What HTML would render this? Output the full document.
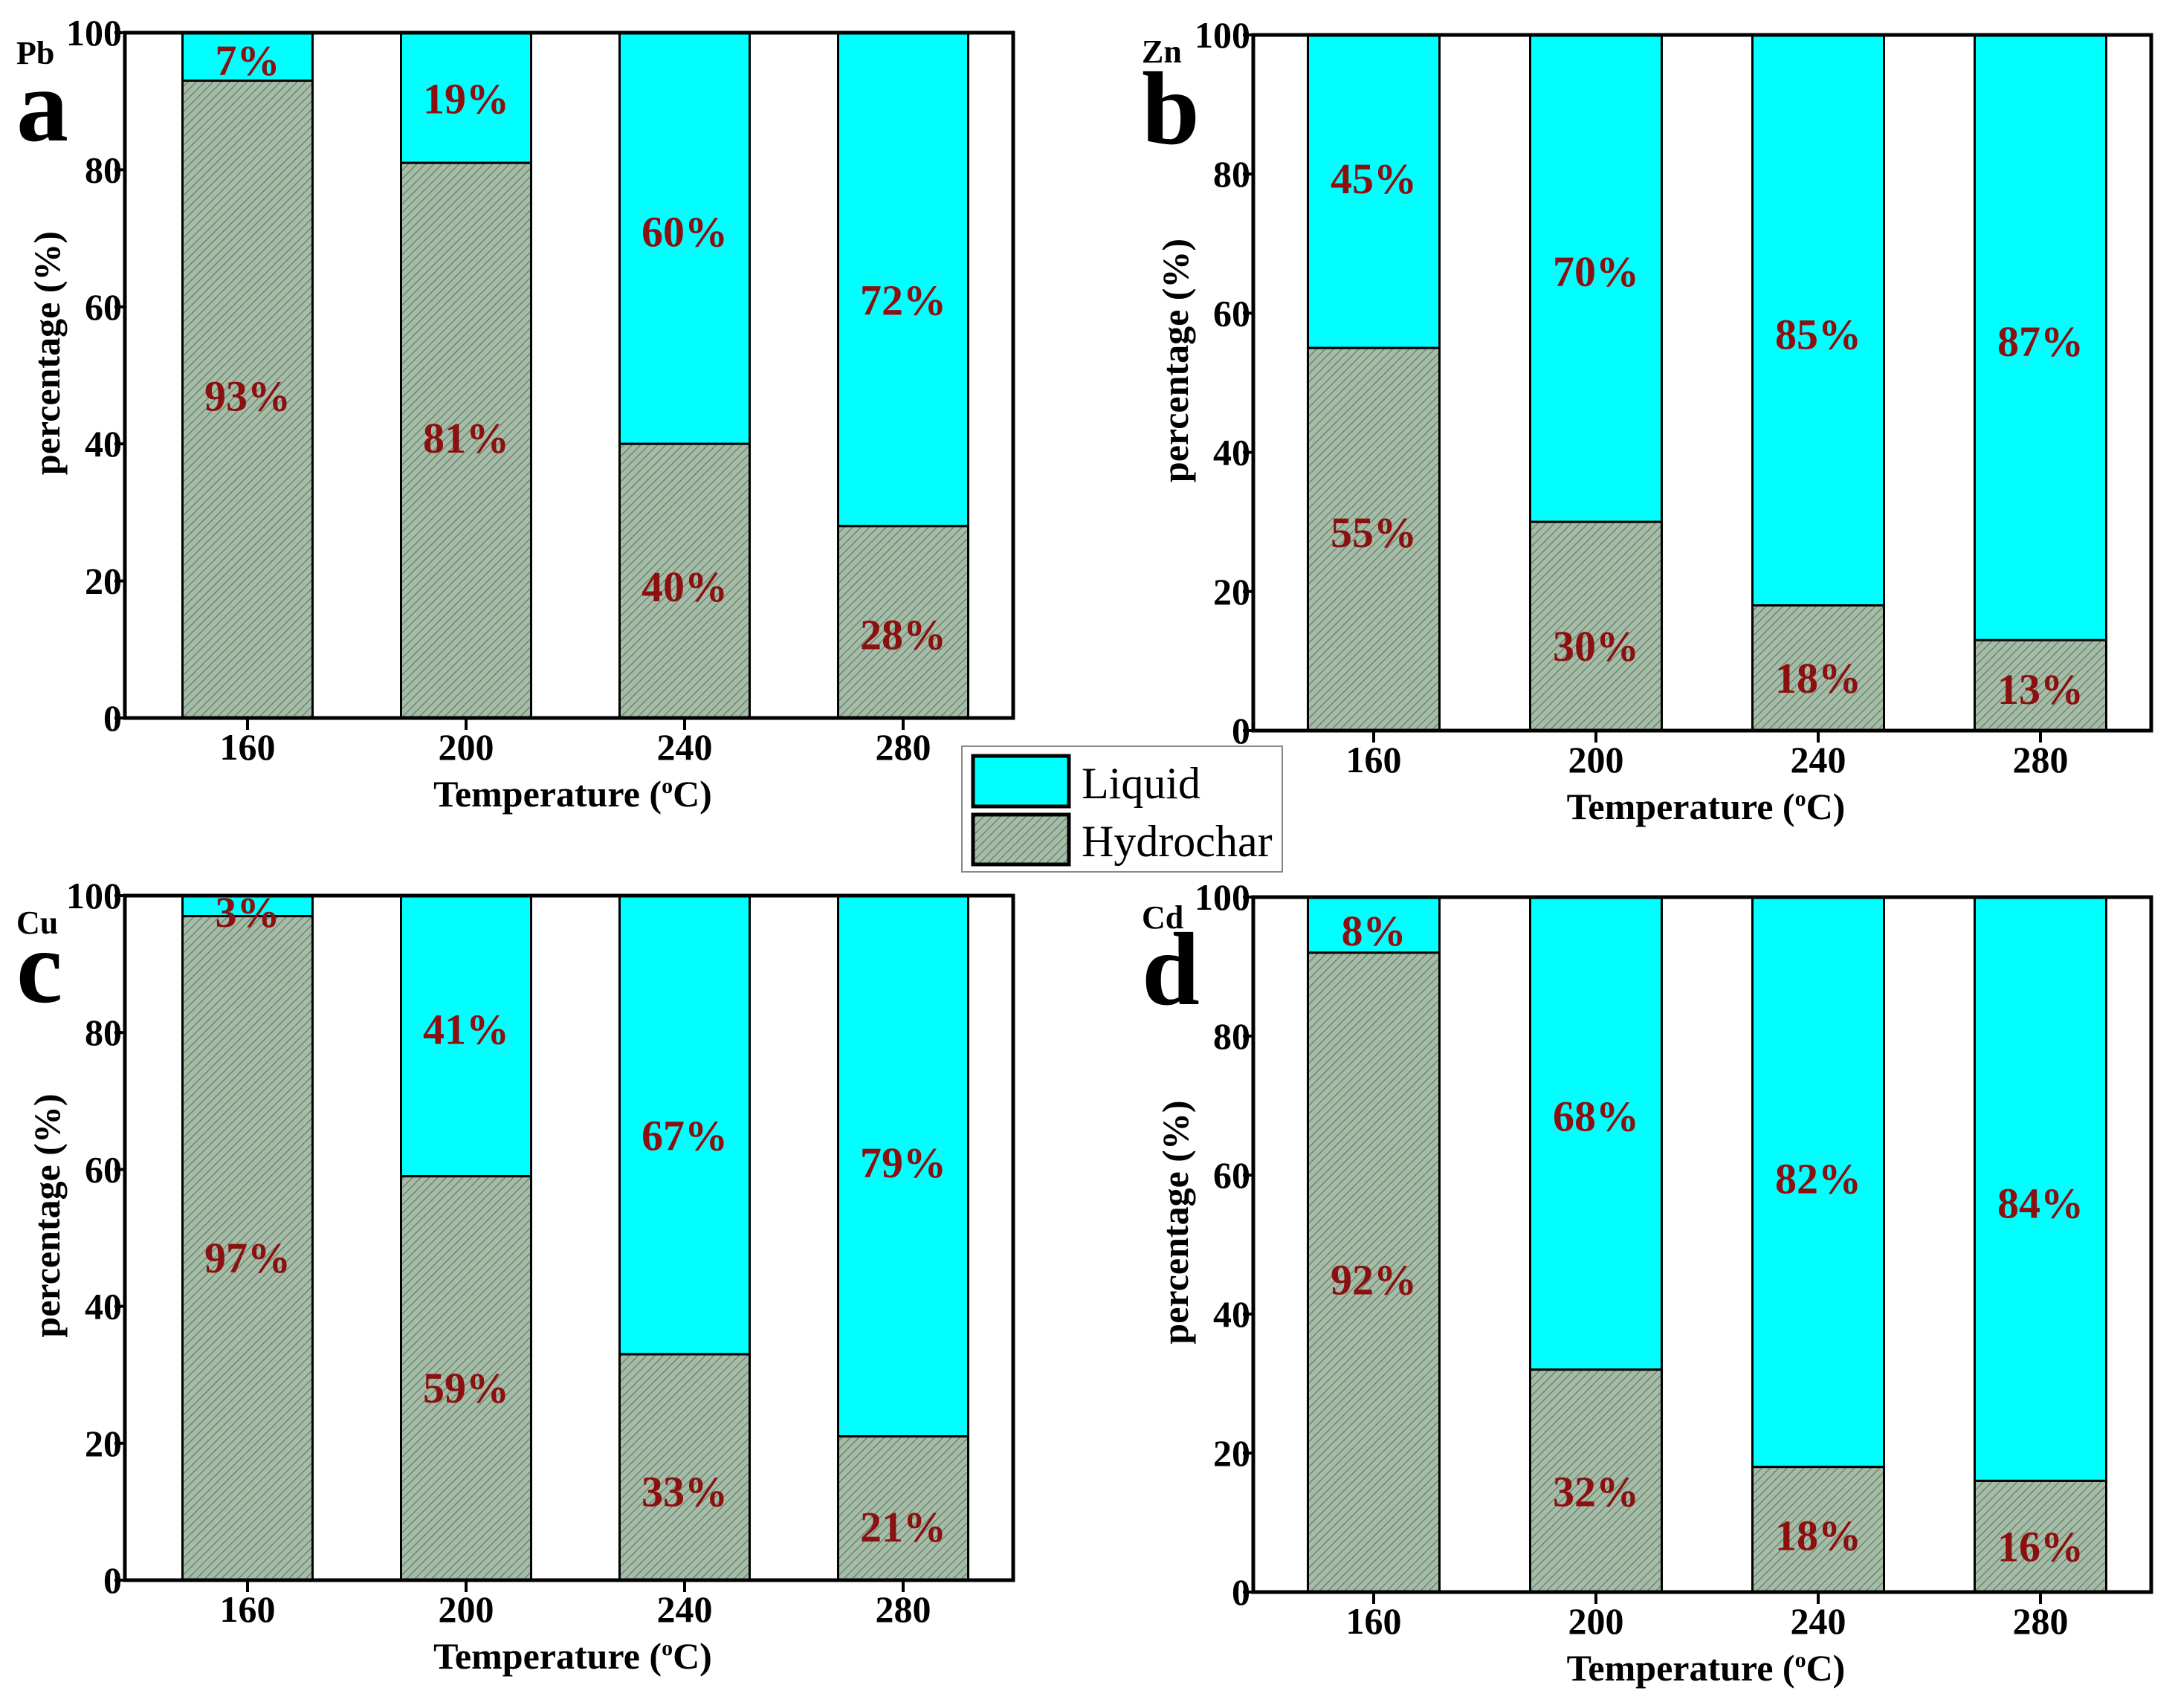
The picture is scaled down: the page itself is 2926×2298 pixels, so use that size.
<!DOCTYPE html>
<html><head><meta charset="utf-8">
<style>
html,body{margin:0;padding:0;background:#fff;}
svg{display:block;}
text{font-family:"Liberation Serif",serif;}
</style></head>
<body>
<svg id="chart" width="2926" height="2298" viewBox="0 0 2926 2298" xmlns="http://www.w3.org/2000/svg">
<defs>
<pattern id="hatch" patternUnits="userSpaceOnUse" width="8" height="8" patternTransform="rotate(45)">
<rect width="8" height="8" fill="#a6bca8"/>
<line x1="0" y1="0" x2="0" y2="8" stroke="#5f8064" stroke-width="2.5"/>
</pattern>
</defs>
<g id="legend">
<rect x="1294" y="1004" width="431" height="169" fill="#fff" stroke="#888" stroke-width="2"/>
<rect x="1309" y="1017" width="129" height="68" fill="#00ffff" stroke="#000" stroke-width="5"/>
<text x="1455" y="1074" font-size="60">Liquid</text>
<rect x="1309" y="1096" width="129" height="67" fill="url(#hatch)" stroke="#000" stroke-width="5"/>
<text x="1455" y="1152" font-size="60">Hydrochar</text>
</g>
</svg>
<script>
const categories = ["160","200","240","280"];
const yTicks = [0,20,40,60,80,100];
const metals = ["Pb","Zn","Cu","Cd"];
const letters = ["a","b","c","d"];
const hydrocharA = [93,81,40,28];
const hydrocharB = [55,30,18,13];
const hydrocharC = [97,59,33,21];
const hydrocharD = [92,32,18,16];
const liquidA = [7,19,60,72];
const liquidB = [45,70,85,87];
const liquidC = [3,41,67,79];
const liquidD = [8,68,82,84];
const liqLabelA = [96,90.4,71,61];
const liqLabelB = [79.4,66,57,56];
const liqLabelC = [97.6,80.5,65,61];
const liqLabelD = [95.2,68.5,59.5,56];
const hydLabelA = [47,40.9,19.2,12.2];
const hydLabelB = [28.5,12.2,7.6,6];
const hydLabelC = [47.1,28.1,13,7.8];
const hydLabelD = [45,14.5,8.2,6.6];

const hyd = [hydrocharA,hydrocharB,hydrocharC,hydrocharD];
const liq = [liquidA,liquidB,liquidC,liquidD];
const liqL = [liqLabelA,liqLabelB,liqLabelC,liqLabelD];
const hydL = [hydLabelA,hydLabelB,hydLabelC,hydLabelD];

const panels = [
 {l:168,r:1363,t:44,b:966,c0:333,step:294,bw:175,tx:22,mb:86,lb:189},
 {l:1686,r:2894,t:47,b:983,c0:1848,step:299,bw:177,tx:1536,mb:84,lb:193},
 {l:168,r:1363,t:1205,b:2126,c0:333,step:294,bw:175,tx:22,mb:1256,lb:1348},
 {l:1686,r:2894,t:1207,b:2142,c0:1848,step:299,bw:177,tx:1536,mb:1249,lb:1351}
];
const NS="http://www.w3.org/2000/svg";
const svg=document.getElementById('chart');
const legend=document.getElementById('legend');
function mk(tag,attrs,parent){const e=document.createElementNS(NS,tag);for(const k in attrs)e.setAttribute(k,attrs[k]);(parent||svg).appendChild(e);return e;}

panels.forEach((p,i)=>{
 const g=mk('g',{});
 
 
 svg.insertBefore(g,legend);
 const y=v=>p.b-(v/100)*(p.b-p.t);
 const x=k=>p.c0+k*p.step;
 categories.forEach((c,k)=>{
  const hv=hyd[i][k], lv=liq[i][k];
  const top=Math.min(100,hv+lv);
  const lr=mk('rect',{x:x(k)-p.bw/2,y:y(top),width:p.bw,height:y(hv)-y(top),fill:'#00ffff',stroke:'#000','stroke-width':3},g);
  
  
  const hr=mk('rect',{x:x(k)-p.bw/2,y:y(hv),width:p.bw,height:y(0)-y(hv),fill:'url(#hatch)',stroke:'#000','stroke-width':3},g);
  
  
  const t1=mk('text',{x:x(k),y:y(liqL[i][k])+20,'font-size':58,'font-weight':'bold','text-anchor':'middle',fill:'#8b1010'},g);
  t1.textContent=lv+'%';
  
  
  const t2=mk('text',{x:x(k),y:y(hydL[i][k])+20,'font-size':58,'font-weight':'bold','text-anchor':'middle',fill:'#8b1010'},g);
  t2.textContent=hv+'%';
  
  
  mk('line',{x1:x(k),x2:x(k),y1:p.b,y2:p.b+16,stroke:'#000','stroke-width':4},g);
  const xt=mk('text',{x:x(k),y:p.b+56,'font-size':50,'font-weight':'bold','text-anchor':'middle'},g);
  xt.textContent=c;
  
  
 });
 const frame=mk('rect',{x:p.l,y:p.t,width:p.r-p.l,height:p.b-p.t,fill:'none',stroke:'#000','stroke-width':5},g);
 
 
 yTicks.forEach(v=>{
  mk('line',{x1:p.l-14,x2:p.l,y1:y(v),y2:y(v),stroke:'#000','stroke-width':4},g);
  const yt=mk('text',{x:p.l-4,y:y(v)+17,'font-size':50,'font-weight':'bold','text-anchor':'end'},g);
  yt.textContent=v;
  
  
 });
 const cx=p.l-88, cy=(p.t+p.b)/2-30;
 const yl=mk('text',{x:cx,y:cy,'font-size':50,'font-weight':'bold','text-anchor':'middle',transform:`rotate(-90 ${cx} ${cy})`},g);
 yl.textContent='percentage (%)';
 
 
 const xl=mk('text',{x:(p.l+p.r)/2+5,y:p.b+119,'font-size':50,'font-weight':'bold','text-anchor':'middle'},g);
 xl.innerHTML='Temperature (<tspan dy="-18" font-size="30">o</tspan><tspan dy="18">C)</tspan>';
 
 
 const mt=mk('text',{x:p.tx,y:p.mb,'font-size':44,'font-weight':'bold'},g);
 mt.textContent=metals[i];
 
 
 const lt=mk('text',{x:p.tx,y:p.lb,'font-size':140,'font-weight':'bold'},g);
 lt.textContent=letters[i];
 
 
});
</script>
</body></html>
